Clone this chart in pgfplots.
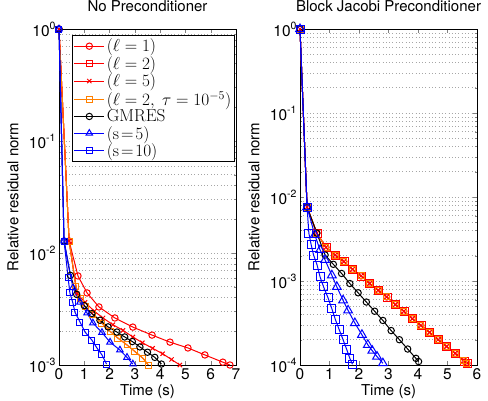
\documentclass[border=0pt]{standalone}
\usepackage[no-math]{fontspec}
\setmainfont{TeX Gyre Heros}
\usepackage{pgfplots}
\pgfplotsset{compat=1.18}

\definecolor{morange}{rgb}{1,0.5,0}
\newcommand{\tp}[1]{10\raisebox{0.45em}{\fontsize{10.5}{10.5}\selectfont#1}}

\pgfplotsset{
  l1/.style={red, mark=o, mark size=3.2pt, line width=1pt},
  l2/.style={red, mark=square, mark size=3pt, line width=1pt},
  l5/.style={red, mark=x, mark size=3pt, line width=1pt},
  lt/.style={morange, mark=square, mark size=3pt, line width=1pt},
  gm/.style={black, mark=o, mark size=3.2pt, line width=1pt},
  s5/.style={blue, mark=triangle, mark size=3.8pt, line width=1pt},
  s10/.style={blue, mark=square, mark size=3pt, line width=1pt},
  big/.style={mark size=4pt},
  bigt/.style={mark size=5pt},
}

\begin{document}
\begin{tikzpicture}
\path[use as bounding box] (-59pt,-35pt) rectangle (429pt,365pt);

\begin{axis}[
  scale only axis, width=177pt, height=336pt,
  ymode=log,
  tick align=inside, tick pos=both,
  major tick length=4pt, minor tick length=2pt,
  ymajorgrids, yminorgrids,
  major grid style={gray!70, line width=0.5pt, dash pattern=on 0.7pt off 2.6pt},
  minor grid style={gray!70, line width=0.5pt, dash pattern=on 0.7pt off 2.6pt},
  clip=false,
  /pgf/number format/assume math mode=true,
  tick label style={font=\fontsize{15.5}{15.5}\selectfont},
  label style={font=\fontsize{15}{15}\selectfont},
  title style={font=\fontsize{15}{15}\selectfont, at={(0.5,1.05)}, anchor=center},
  xlabel style={at={(0.5,-0.08)}, anchor=center},
  ylabel style={at={(-0.26,0.5)}, anchor=center},
  xlabel={Time (s)}, ylabel={Relative residual norm},
  title={No Preconditioner},
  xmin=0, xmax=7, xtick={0,1,...,7},
  ymin=1e-3, ymax=1,
  ytick={1e-3,1e-2,1e-1,1},
  yticklabels={\tp{-3},\tp{-2},\tp{-1},\tp{0}},
  legend cell align=left,
  legend style={at={(0.073,0.982)}, anchor=north west, draw=black, line width=0.8pt, fill=white,
    font=\fontsize{16.5}{16.5}\selectfont, inner sep=1.5pt, row sep=-1pt},
  legend image code/.code={%
    \draw[mark repeat=2,mark phase=2] plot coordinates {(0pt,0pt) (15pt,0pt) (30pt,0pt)};},
]
\addplot[l1] coordinates {(0,1) (0.40,1.28e-2) (0.75,6.24e-3) (1.11,4.40e-3) (1.58,3.30e-3)
  (2.21,2.63e-3) (2.92,2.18e-3) (3.68,1.85e-3) (4.39,1.60e-3) (5.10,1.42e-3) (5.77,1.23e-3)
  (6.48,1.06e-3) (6.76,1.0e-3)};
\addplot[l2] coordinates {(0,1) (0.40,1.28e-2) (0.67,5.01e-3) (0.85,3.89e-3) (1.03,3.31e-3)
  (1.34,2.82e-3) (1.70,2.37e-3) (2.02,2.00e-3) (2.33,1.74e-3) (2.69,1.51e-3) (3.00,1.32e-3)
  (3.32,1.15e-3) (3.53,1.0e-3)};
\addplot[l5] coordinates {(0,1) (0.40,1.28e-2) (0.71,4.37e-3) (1.03,3.63e-3) (1.40,3.02e-3)
  (1.74,2.63e-3) (2.13,2.29e-3) (2.53,2.04e-3) (2.92,1.78e-3) (3.30,1.58e-3) (3.70,1.41e-3)
  (4.10,1.26e-3) (4.45,1.12e-3) (4.78,1.0e-3)};
\addplot[lt] coordinates {(0,1) (0.40,1.28e-2) (0.67,5.01e-3) (0.85,3.89e-3) (1.03,3.31e-3)
  (1.34,2.82e-3) (1.70,2.37e-3) (2.02,2.00e-3) (2.33,1.74e-3) (2.69,1.51e-3) (3.00,1.32e-3)
  (3.32,1.15e-3) (3.53,1.0e-3)};
\addplot[gm] coordinates {(0,1) (0.20,1.28e-2) (0.45,6.31e-3) (0.70,4.27e-3) (1.00,3.39e-3)
  (1.30,2.88e-3) (1.62,2.51e-3) (1.94,2.19e-3) (2.29,1.97e-3) (2.60,1.78e-3) (2.90,1.62e-3)
  (3.20,1.45e-3) (3.50,1.30e-3) (3.79,1.17e-3) (4.05,1.02e-3)};
\addplot[s5] coordinates {(0,1) (0.20,1.28e-2) (0.55,4.90e-3) (0.83,3.63e-3) (1.11,2.91e-3)
  (1.34,2.37e-3) (1.70,1.95e-3) (2.02,1.60e-3) (2.41,1.36e-3) (2.69,1.17e-3) (2.92,1.02e-3)};
\addplot[s10] coordinates {(0,1) (0.20,1.28e-2) (0.36,6.03e-3) (0.43,4.40e-3) (0.55,3.58e-3)
  (0.63,2.97e-3) (0.83,2.42e-3) (1.03,1.97e-3) (1.30,1.67e-3) (1.50,1.42e-3) (1.70,1.23e-3)
  (1.88,1.02e-3)};
\legend{$(\ell=1)$, $(\ell=2)$, $(\ell=5)$, {$(\ell=2,\ \tau=10^{-5})$},
  $\mathrm{GMRES}$, $(\mathrm{s}\!=\!5)$, $(\mathrm{s}\!=\!10)$}
\end{axis}

\begin{axis}[xshift=241pt,
  scale only axis, width=177pt, height=336pt,
  ymode=log,
  tick align=inside, tick pos=both,
  major tick length=4pt, minor tick length=2pt,
  ymajorgrids, yminorgrids,
  major grid style={gray!70, line width=0.5pt, dash pattern=on 0.7pt off 2.6pt},
  minor grid style={gray!70, line width=0.5pt, dash pattern=on 0.7pt off 2.6pt},
  clip=false,
  /pgf/number format/assume math mode=true,
  tick label style={font=\fontsize{15.5}{15.5}\selectfont},
  label style={font=\fontsize{15}{15}\selectfont},
  title style={font=\fontsize{15}{15}\selectfont, at={(0.5,1.05)}, anchor=center},
  xlabel style={at={(0.5,-0.08)}, anchor=center},
  ylabel style={at={(-0.26,0.5)}, anchor=center},
  xlabel={Time (s)}, ylabel={Relative residual norm},
  title={Block Jacobi Preconditioner},
  xmin=0, xmax=6, xtick={0,1,...,6},
  ymin=1e-4, ymax=1,
  ytick={1e-4,1e-3,1e-2,1e-1,1},
  yticklabels={\tp{-4},\tp{-3},\tp{-2},\tp{-1},\tp{0}},
]
\addplot[l1] coordinates {(0,1) (0.24,7.59e-3) (0.57,3.72e-3) (0.88,2.51e-3) (1.19,2.04e-3)
  (1.49,1.70e-3) (1.78,1.38e-3) (2.07,1.15e-3) (2.36,9.33e-4) (2.65,7.76e-4) (2.94,6.46e-4)
  (3.23,5.25e-4) (3.52,4.37e-4) (3.81,3.55e-4) (4.10,2.95e-4) (4.39,2.45e-4) (4.68,2.00e-4)
  (4.97,1.66e-4) (5.26,1.38e-4) (5.55,1.12e-4) (5.66,1.05e-4)};
\addplot[l2, big] coordinates {(0,1) (0.24,7.59e-3) (0.58,3.70e-3) (0.89,2.50e-3) (1.20,2.03e-3)
  (1.50,1.69e-3) (1.79,1.37e-3) (2.08,1.14e-3) (2.37,9.30e-4) (2.66,7.74e-4) (2.95,6.44e-4)
  (3.24,5.23e-4) (3.53,4.35e-4) (3.82,3.53e-4) (4.11,2.94e-4) (4.40,2.44e-4) (4.69,1.99e-4)
  (4.98,1.65e-4) (5.27,1.37e-4) (5.56,1.11e-4) (5.67,1.04e-4)};
\addplot[l5] coordinates {(0,1) (0.24,7.59e-3) (0.57,3.72e-3) (0.88,2.51e-3) (1.19,2.04e-3)
  (1.49,1.70e-3) (1.78,1.38e-3) (2.07,1.15e-3) (2.36,9.33e-4) (2.65,7.76e-4) (2.94,6.46e-4)
  (3.23,5.25e-4) (3.52,4.37e-4) (3.81,3.55e-4) (4.10,2.95e-4) (4.39,2.45e-4) (4.68,2.00e-4)
  (4.97,1.66e-4) (5.26,1.38e-4) (5.55,1.12e-4) (5.66,1.05e-4)};
\addplot[lt] coordinates {(0,1) (0.24,7.59e-3) (0.57,3.72e-3) (0.88,2.51e-3) (1.19,2.04e-3)
  (1.49,1.70e-3) (1.78,1.38e-3) (2.07,1.15e-3) (2.36,9.33e-4) (2.65,7.76e-4) (2.94,6.46e-4)
  (3.23,5.25e-4) (3.52,4.37e-4) (3.81,3.55e-4) (4.10,2.95e-4) (4.39,2.45e-4) (4.68,2.00e-4)
  (4.97,1.66e-4) (5.26,1.38e-4) (5.55,1.12e-4) (5.66,1.05e-4)};
\addplot[gm] coordinates {(0,1) (0.24,7.59e-3) (0.57,3.72e-3) (0.85,2.04e-3) (1.13,1.58e-3)
  (1.41,1.23e-3) (1.69,9.33e-4) (1.97,7.24e-4) (2.25,5.62e-4) (2.53,4.37e-4) (2.81,3.39e-4)
  (3.09,2.57e-4) (3.37,2.00e-4) (3.65,1.55e-4) (3.93,1.20e-4) (4.02,1.10e-4)};
\addplot[s5, bigt] coordinates {(0,1) (0.24,7.59e-3) (0.50,3.55e-3) (0.68,2.34e-3) (0.85,1.78e-3)
  (1.08,1.17e-3) (1.25,8.51e-4) (1.46,5.89e-4) (1.63,4.47e-4) (1.86,3.16e-4) (2.10,2.29e-4)
  (2.30,1.74e-4) (2.45,1.48e-4) (2.61,1.26e-4) (2.81,1.05e-4)};
\addplot[s10, big] coordinates {(0,1) (0.24,7.59e-3) (0.30,3.72e-3) (0.38,2.69e-3) (0.46,2.04e-3)
  (0.58,1.55e-3) (0.68,1.12e-3) (0.80,8.51e-4) (0.95,6.31e-4) (1.08,4.68e-4) (1.20,3.47e-4)
  (1.33,2.63e-4) (1.46,2.00e-4) (1.59,1.51e-4) (1.69,1.20e-4) (1.78,1.02e-4)};
\end{axis}
\end{tikzpicture}
\end{document}
